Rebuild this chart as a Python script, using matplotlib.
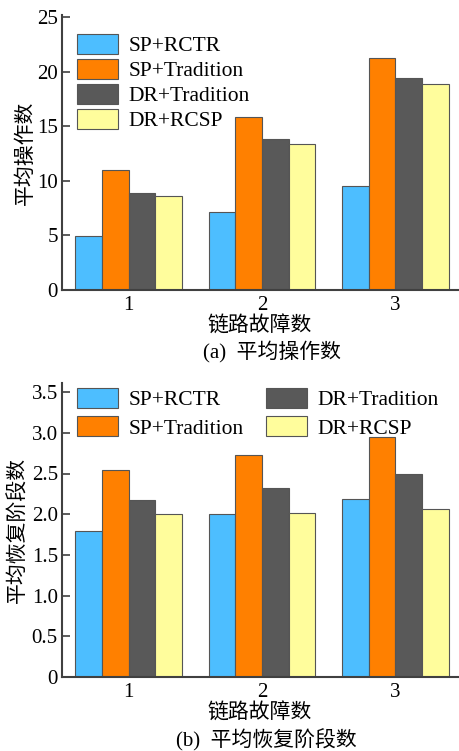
import matplotlib
matplotlib.use("Agg")
import matplotlib.pyplot as plt
import numpy as np

plt.rcParams['font.family'] = ['Liberation Serif', 'Noto Sans CJK SC']

groups = ["1", "2", "3"]
series = ["SP+RCTR", "SP+Tradition", "DR+Tradition", "DR+RCSP"]
colors = ["#4DBEFF", "#FF8000", "#595959", "#FFFD9C"]

ops_vals = [
    [4.9, 7.1, 9.55],      # SP+RCTR
    [10.95, 15.8, 21.2],   # SP+Tradition
    [8.9, 13.85, 19.45],   # DR+Tradition
    [8.65, 13.4, 18.85],   # DR+RCSP
]
stage_vals = [
    [1.79, 2.0, 2.19],
    [2.54, 2.73, 2.95],
    [2.18, 2.32, 2.49],
    [2.0, 2.01, 2.06],
]

ylabel_a = "平均操作数"
ylabel_b = "平均恢复阶段数"
xlabel = "链路故障数"
cap_a = "(a)  平均操作数"
cap_b = "(b)  平均恢复阶段数"

W, H = 459, 751
fig = plt.figure(figsize=(W / 100, H / 100), dpi=100)

FS = 15
LFS = 15.5
spine_c = "#404040"
cjk = ['Noto Sans CJK SC', 'Liberation Serif']


def draw(ax, vals, ylim, yticks, yticklabels):
    x = np.arange(1, len(groups) + 1)
    n = len(series)
    w = 0.8 / n
    for i, (name, v) in enumerate(zip(series, vals)):
        ax.bar(x - 0.4 + w * (i + 0.5), v, width=w, color=colors[i],
               edgecolor="#555555", linewidth=0.8, label=name, zorder=2)
    ax.set_xlim(0.5, 3.47)
    ax.set_ylim(*ylim)
    ax.set_xticks(x)
    ax.set_xticklabels(groups)
    ax.set_yticks(yticks)
    ax.set_yticklabels(yticklabels)
    for s in ["top", "right"]:
        ax.spines[s].set_visible(False)
    for s in ["left", "bottom"]:
        ax.spines[s].set_color(spine_c)
        ax.spines[s].set_linewidth(1.5)
    ax.tick_params(direction="in", length=6, width=1.2, color=spine_c,
                   labelsize=FS, pad=3)
    ax.tick_params(axis="x", pad=4)


# top axes
ax1 = fig.add_axes([62 / W, 1 - 290 / H, (458 - 62) / W, 25.2 * 10.92 / H])
draw(ax1, ops_vals, (0, 25.2), [0, 5, 10, 15, 20, 25],
     ["0", "5", "10", "15", "20", "25"])
ax1.set_ylabel(ylabel_a, fontsize=FS, family=cjk, labelpad=1)
ax1.set_xlabel(xlabel, fontsize=FS, family=cjk, labelpad=0)
ax1.legend(loc="upper left", bbox_to_anchor=(0.037, 0.93), frameon=False,
           fontsize=LFS, handlelength=1.9, handleheight=1.05, handletextpad=0.5,
           labelspacing=0.12, borderaxespad=0, borderpad=0)

# bottom axes
ax2 = fig.add_axes([62 / W, 1 - 677 / H, (458 - 62) / W, 3.61 * 81.4 / H])
draw(ax2, stage_vals, (0, 3.61), [0, 0.5, 1.0, 1.5, 2.0, 2.5, 3.0, 3.5],
     ["0", "0.5", "1.0", "1.5", "2.0", "2.5", "3.0", "3.5"])
ax2.set_ylabel(ylabel_b, fontsize=FS, family=cjk, labelpad=2)
ax2.set_xlabel(xlabel, fontsize=FS, family=cjk, labelpad=0)
ax2.legend(loc="upper left", bbox_to_anchor=(0.037, 0.985), frameon=False,
           fontsize=LFS, ncol=2, handlelength=1.9, handleheight=1.05,
           handletextpad=0.5, labelspacing=0.3, columnspacing=1.05,
           borderaxespad=0, borderpad=0)

fig.text(272 / W, 1 - 352 / H, cap_a, fontsize=FS, ha="center", va="center",
         family=['Liberation Serif', 'Noto Sans CJK SC'])
fig.text(266 / W, 1 - 740 / H, cap_b, fontsize=FS, ha="center", va="center",
         family=['Liberation Serif', 'Noto Sans CJK SC'])

fig.savefig("out.png", dpi=100)
